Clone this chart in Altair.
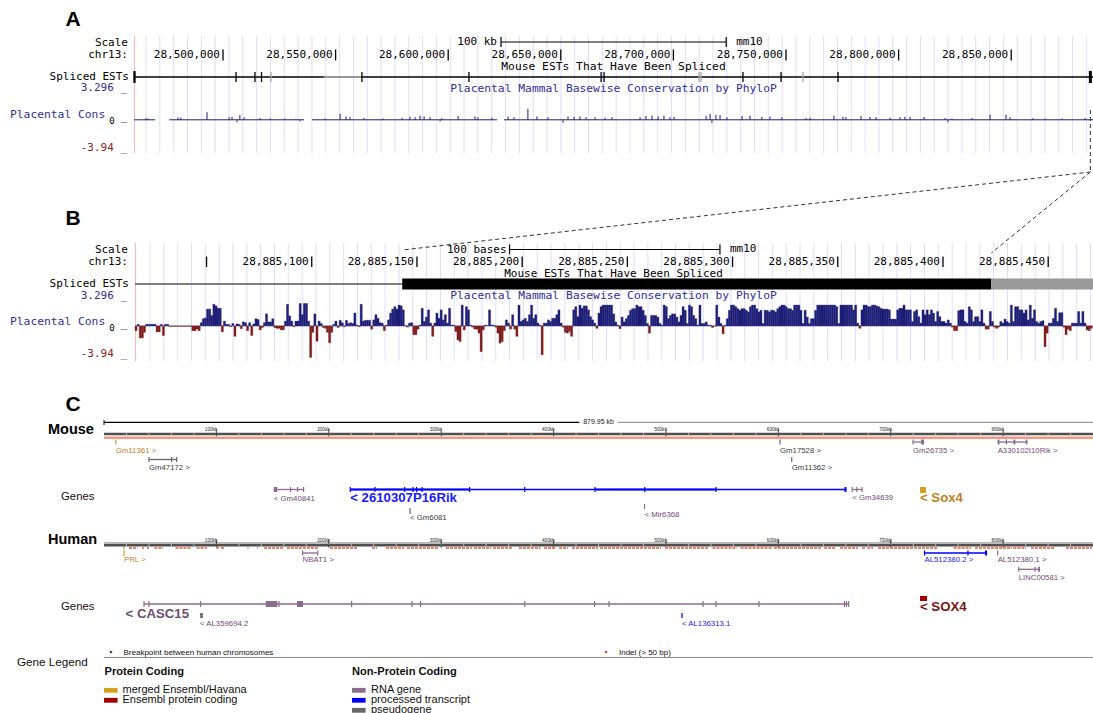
import altair as alt
import numpy as np
import pandas as pd

# ------------------------------------------------------------------
# Panel A: UCSC browser, chr13 (mm10) overview
# ------------------------------------------------------------------
A_DOMAIN = [28_460_480, 28_886_323]
A_RANGE = [134, 1093]
A_TICKS = [28_500_000, 28_550_000, 28_600_000, 28_650_000,
           28_700_000, 28_750_000, 28_800_000, 28_850_000]
A_SCALEBAR_START = 28_623_450
A_SCALEBAR_LEN = 100_000
A_EST_EXONS = [28_460_700, 28_505_800, 28_514_200, 28_517_100, 28_561_700,
               28_609_200, 28_667_900, 28_669_200, 28_730_900, 28_747_800,
               28_773_100]
A_EST_LAST_EXON = [28_885_143, 28_885_423]
A_EST_FAINT_EXONS = [28_521_300, 28_711_400, 28_712_300, 28_757_500]
A_EST_FAINT_SPAN = [28_544_800, 28_561_700]
A_CONS_RUNS_KB = [(28460.5, 28469.9), (28476.1, 28536.0),
                  (28539.5, 28621.7), (28624.8, 28886.3)]
A_CONS_POS_KB = [28465.8, 28466.7, 28480.0, 28481.3, 28492.9, 28502.7, 28504.0, 28506.2, 28507.5, 28509.3,
                 28516.4, 28520.9, 28527.5, 28532.4, 28534.2, 28545.3, 28552.0, 28554.6, 28556.4, 28562.6,
                 28571.0, 28579.5, 28583.0, 28585.3, 28587.5, 28589.3, 28591.9, 28596.4, 28597.2, 28604.4,
                 28611.9, 28613.2, 28619.4, 28626.6, 28629.2, 28635.4, 28639.4, 28644.3, 28651.0, 28653.2,
                 28655.9, 28658.5, 28661.2, 28665.2, 28669.6, 28672.7, 28685.2, 28687.8, 28690.5, 28693.2,
                 28695.8, 28698.5, 28700.3, 28714.5, 28716.3, 28717.1, 28718.9, 28720.7, 28723.8, 28730.5,
                 28734.0, 28739.3, 28742.9, 28748.2, 28758.9, 28760.7, 28771.3, 28775.3, 28776.6, 28783.3,
                 28787.3, 28790.0, 28796.2, 28800.6, 28802.8, 28805.1, 28811.3, 28820.6, 28821.9, 28823.7,
                 28832.6, 28840.6, 28847.7, 28849.5, 28859.7, 28865.0, 28872.6, 28882.8]
A_CONS_VAL = [0.2, 0.15, 0.3, 0.25, 0.9, 0.3, 0.35, -0.3, 0.55, 0.3,
              0.2, 0.15, 0.15, 0.1, -0.2, 0.15, 0.7, 0.4, 0.3, 0.2,
              0.15, 0.25, 0.35, 0.3, 0.5, 0.4, 0.3, -0.2, 0.2, 0.45,
              0.4, 0.3, 0.25, 0.4, 0.3, 1.3, 0.4, 0.3, -0.35, 0.4,
              0.35, 0.4, 0.3, 0.3, 0.25, 0.3, 0.3, 0.45, 0.5, 0.4,
              0.5, 0.3, 0.35, 0.5, 0.7, -0.4, 0.6, 0.55, 0.3, 0.45,
              0.5, 0.35, 0.4, 0.3, 0.2, 0.25, 0.5, 0.35, 0.3, 0.45,
              0.35, 0.3, 0.25, 0.3, 0.35, 0.35, 0.35, 0.2, -0.3, 0.15,
              0.2, 0.6, 0.6, 0.3, 0.2, 0.15, 0.15, 0.2]

# ------------------------------------------------------------------
# Panel B: base-level zoom on the EST exon
# ------------------------------------------------------------------
B_DOMAIN = [28_885_016, 28_885_471.3]
B_RANGE = [135, 1093]
B_TICK_LABELS = [28_885_100, 28_885_150, 28_885_200, 28_885_250,
                 28_885_300, 28_885_350, 28_885_400, 28_885_450]
B_TICK_BARE = [28_885_050]
B_SCALEBAR_START = 28_885_194
B_SCALEBAR_LEN = 100
B_EST_INTRON = [28_885_016, 28_885_143]
B_EST_EXON = [28_885_143, 28_885_423]
B_EST_FAINT = [28_885_423, 28_885_471.3]
B_FIRST_BASE = 28_885_016
# phyloP per base, left to right
B_CONS_1 = [-0.6, 0.2, -1.5, -1.5, -0.8, 0.2, 0.2, 0.2, 0.2, 0.2,
            -0.75, -0.75, 0.2, -1.2, 0.2, 0.2, -0.05, -0.05, -0.05, -0.05,
            -0.05, -0.05, -0.05, -0.05, -0.05, -0.05, -0.05, -0.6, -0.6, -0.4,
            -0.6, 0.4, 0.9, 1.0, 2.1, 2.1, 1.3, 2.7, 2.5, 2.2,
            2.2, -0.75, 0.6, 0.2, 0.2, -0.1, 0.3, -1.3, 0.25, 0.2,
            -0.35, 0.5, 0.4, -0.6, 0.4, -1.2, 0.25, 0.9, 0.8, -0.5,
            -0.2, 0.4, 1.5, 0.5, 0.5, 0.9, -0.2, -0.3, -0.3, -0.5,
            -0.5, 0.6, 2.7, 1.25, 0.6, -0.1, 0.6, 0.6, 2.8, 1.4,
            2.8, 2.8, 0.6, -3.94, -0.8, 1.5, -1.9, 0.6, 0.3, -0.2,
            -0.3, -0.8, -2.1, -0.8, 0.2, 0.6, -0.2, 0.7, 0.4, -0.1,
            0.7, 0.3, 0.4, 0.3, 1.6, 0.1, -0.1, 2.7, 0.6, 0.7,
            0.7, 0.7]
B_CONS_2 = [-0.4, 0.75, 1.4, 0.95, 0.4, 0.35, -0.6, 0.1, 0.75, 1.6,
            2.1, 2.4, 2.1, 2.6, 2.5, 2.0, 0.05, -0.15, 0.35, 0.4,
            -1.1, -1.1, -0.4, 0.1, 2.2, 0.55, 1.1, 2.0, 0.35, -1.3,
            0.35, 1.6, 0.95, 2.0, 0.75, 1.4, 0.35, 2.2, 0.1, 0.1,
            -0.7, -1.75, -1.95, 2.6, -0.5, 2.4, 2.0, 0.1, -0.15, -0.4,
            -0.4, -0.9, -3.2, -0.5, 0.1, 0.05, 2.0, 0.1, 0.1, -0.15,
            -0.9, -2.15, -1.95, -0.6, 0.75, 0.35, -0.4, 1.4, -0.4, -1.3,
            2.6, 0.55, 0.75, 0.95, 0.55, 1.4, 2.6, 0.95, 1.4, 0.35,
            0.1, -3.6, 0.35, 0.35, 0.75, 0.55, 0.95, 0.95, 1.4, 2.0,
            0.35, -0.15, -0.8, -0.9, -0.7, -1.3, 2.0, 2.4, 1.15, 2.6,
            2.2, 2.5, 2.5, 2.0, 1.15, 0.75, 0.35, -0.3, 1.6, 2.4,
            2.6, 2.6, 2.6, 2.6]
B_CONS_3 = [2.6, 1.5, 0.5, 0.1, -0.35, 1.1, 0.5, 0.9, 1.3, 1.95,
            2.15, 2.15, 2.6, 2.4, 2.4, 1.95, 1.3, 0.3, -0.9, 1.3,
            1.3, 1.3, 1.1, 0.3, 0.1, 2.6, 2.4, 0.9, 1.3, 1.5,
            1.5, 1.1, 0.5, 1.3, 2.4, 1.95, 0.3, 2.6, 2.4, 1.3,
            0.9, 0.1, 2.6, 0.3, 0.3, 0.5, 0.1, 0.1, -0.2, -0.05,
            2.6, 1.1, 0.3, -1.0, 0.1, 0.9, 1.95, 2.6, 2.6, 2.4,
            2.15, 1.95, 2.15, 2.15, 1.95, 1.75, 2.4, 2.6, 2.6, 2.15,
            1.75, 1.95, 0.3, 1.95, 1.95, 1.75, 1.95, 1.95, 1.75, 2.15,
            2.4, 2.6, 2.6, 2.4, 2.15, 2.15, 1.95, 2.6, 2.6, 2.6,
            1.95, 0.3, 1.95, 1.1, 0.3, 0.9, 0.9, 1.95, 2.6, 2.6,
            2.6, 2.6, 2.6, 2.6, 2.6, 2.6, 2.6, 2.4, 0.3, 2.6,
            2.6, 2.6, 2.6, 2.6]
B_CONS_4 = [2.6, 2.0, 2.6, 0.35, -0.3, 2.0, 2.6, 2.6, 2.4, 2.4,
            2.6, 2.6, 2.5, 2.4, 2.2, 2.1, 2.1, 2.1, 2.0, 0.85,
            0.85, 0.85, 2.0, 2.2, 2.2, 2.6, 2.0, 2.0, 2.0, 0.55,
            1.8, 2.0, 1.15, 0.35, 2.0, 1.4, 2.0, 1.4, 2.0, 1.6,
            0.55, 1.8, 1.15, 0.55, 0.55, 0.35, 0.75, 0.35, -0.15, -0.6,
            -0.6, 1.9, 2.0, 2.0, 0.55, 0.35, 2.4, 2.0, 0.55, 1.15,
            1.15, 0.55, 2.0, 0.35, -0.4, -0.4, 1.8, 0.55, -0.15, -0.3,
            -0.15, 0.55, 0.35, 0.85, 0.55, 0.35, 2.6, 0.55, 2.4, 2.4,
            2.0, 2.0, 1.6, 2.0, 0.75, 2.6, 0.95, 2.0, 0.55, 0.35,
            0.55, 0.65, -2.6, -0.9, 0.35, 0.35, 0.95, 2.2, 0.55, 1.65,
            1.65, -0.15, -1.1, -0.4, -0.6, 0.35, 0.35, 0.35, 1.8, 0.35,
            1.8, 0.35, -0.5, -0.6, -0.3]
CONS_DOMAIN = [-3.94, 3.296]

# ------------------------------------------------------------------
# Panel C: Ensembl comparison, mouse vs human (kb from window start)
# ------------------------------------------------------------------
C_DOMAIN = [0, 879.95]
C_RANGE = [104, 1093]
C_SPAN_LABEL = "879.95 kb"
C_RULER_MAJOR = [100, 200, 300, 400, 500, 600, 700, 800]

# (name, label, biotype, (start, end) or None, exon ticks, exon boxes)
MOUSE_GENES = [
    ("Gm11361", "Gm11361 >", "merged", None, [10.5], []),
    ("Gm47172", "Gm47172 >", "pseudo", (40.0, 64.6), [40.0, 60.1, 64.6], []),
    ("Gm17528", "Gm17528 >", "pseudo", None, [601.5], []),
    ("Gm11362", "Gm11362 >", "pseudo", None, [611.9], []),
    ("Gm26735", "Gm26735 >", "rna", (719.8, 729.6), [719.8], [(726.9, 729.6)]),
    ("A330102I10Rik", "A330102I10Rik >", "rna", (795.1, 821.6), [802.9],
     [(795.1, 796.7), (809.2, 810.8), (820.1, 821.6)]),
    ("Gm40841", "< Gm40841", "rna", (151.1, 177.6), [166.0, 172.2, 177.6], [(151.1, 154.2)]),
    ("2610307P16Rik", "< 2610307P16Rik", "processed", (219.1, 660.2),
     [219.1, 241.1, 267.5, 274.9, 278.1, 283.0, 325.3, 374.3, 436.9, 481.1, 544.5, 659.3, 660.2], []),
    ("Gm6081", "< Gm6081", "pseudo", None, [272.3], []),
    ("Mir6368", "< Mir6368", "rna", None, [480.9], []),
    ("Gm34639", "< Gm34639", "rna", (665.7, 674.5), [665.7, 669.8, 674.5], []),
    ("Sox4", "< Sox4", "merged", None, [], [(726.0, 731.4)]),
]
MOUSE_WIDE_BLOCKS = [(219.1, 325.3), (436.9, 544.5)]

HUMAN_GENES = [
    ("PRL", "PRL >", "merged", None, [17.8], []),
    ("NBAT1", "NBAT1 >", "rna", (176.7, 190.1), [176.7, 190.1], []),
    ("AL512380.2", "AL512380.2 >", "processed", (730.0, 785.7), [730.0, 768.7], [(783.9, 785.7)]),
    ("AL512380.1", "AL512380.1 >", "rna", None, [795.1], []),
    ("LINC00581", "LINC00581 >", "rna", (813.8, 832.8), [813.8, 828.4], [(831.0, 832.8)]),
    ("CASC15", "< CASC15", "rna", (35.6, 662.6),
     [35.6, 40.0, 85.9, 155.7, 220.3, 274.0, 281.7, 374.4, 436.5, 449.3, 533.0, 544.5,
      582.8, 658.9, 660.6, 662.6], [(143.9, 154.2), (171.7, 177.1)]),
    ("AL359694.2", "< AL359694.2", "rna", None, [], [(85.4, 88.1)]),
    ("AL136313.1", "< AL136313.1", "processed", None, [514.3], []),
    ("SOX4", "< SOX4", "protein", None, [], [(726.0, 732.3)]),
]
HUMAN_ALIGN_BLOCKS = [
    (16.9, 18.3), (22.2, 29.9), (33.8, 35.6), (38.3, 40.0), (44.8, 52.5), (63.6, 77.4),
    (82.4, 91.6), (100.2, 102.3), (104.1, 107.3), (127.7, 128.6), (136.1, 137.0),
    (142.4, 160.2), (162.8, 190.4), (201.1, 226.0), (238.5, 242.9), (250.9, 266.9),
    (269.6, 298.1), (304.3, 327.4), (329.2, 344.3), (346.1, 363.5), (369.2, 388.4),
    (391.5, 402.2), (404.9, 412.9), (416.4, 439.5), (441.3, 495.6), (499.2, 538.3),
    (541.4, 563.2), (566.4, 594.4), (596.1, 638.5), (640.7, 651.0), (654.9, 670.9),
    (674.4, 677.0), (679.1, 684.4), (688.7, 742.1), (755.9, 771.4), (775.0, 807.9),
    (809.1, 820.3), (824.8, 845.3), (855.9, 879.1),
]

LEGEND_PROTEIN = [("merged Ensembl/Havana", "merged"), ("Ensembl protein coding", "protein")]
LEGEND_NONPROTEIN = [("RNA gene", "rna"), ("processed transcript", "processed"), ("pseudogene", "pseudo")]

# ------------------------------------------------------------------
# styling
# ------------------------------------------------------------------
MONO = "DejaVu Sans Mono"
SANS = "Liberation Sans"
NAVY = "#1e1e76"
DRED = "#7e1d1d"
TXT_BLUE = "#30309a"
TXT_RED = "#8c1e1e"
GRID = "#dedefb"
PINK = "#f6bcbc"
FILL = {"merged": "#d4a020", "protein": "#a10000", "rna": "#8b6b8e",
        "processed": "#0000ff", "pseudo": "#666666"}
INK = {"merged": "#c0821f", "protein": "#7a1414", "rna": "#6d4d71",
       "processed": "#1a1aff", "pseudo": "#3c3c3c"}

W, H = 1093, 713
PX = alt.Scale(domain=[0, W], range=[0, W], nice=False, zero=False)
PY = alt.Scale(domain=[0, H], range=[0, H], nice=False, zero=False)
SA = alt.Scale(domain=A_DOMAIN, range=A_RANGE, nice=False, zero=False)
SB = alt.Scale(domain=B_DOMAIN, range=B_RANGE, nice=False, zero=False)
SC = alt.Scale(domain=C_DOMAIN, range=C_RANGE, nice=False, zero=False)
SYA = alt.Scale(domain=CONS_DOMAIN, range=[153, 92], nice=False, zero=False)
SYB = alt.Scale(domain=CONS_DOMAIN, range=[357.5, 299.5], nice=False, zero=False)


def to_px(v, dom, rng):
    return rng[0] + (v - dom[0]) / (dom[1] - dom[0]) * (rng[1] - rng[0])


def one():
    return pd.DataFrame({"_": [0]})


def X(f, s):
    return alt.X(f"{f}:Q", scale=s, axis=None)


def Y(f, s):
    return alt.Y(f"{f}:Q", scale=s, axis=None)


def page_text(rows, **mark):
    df = pd.DataFrame(rows, columns=["t", "x", "y"])
    mark.setdefault("baseline", "middle")
    return alt.Chart(df).mark_text(**mark).encode(x=X("x", PX), y=Y("y", PY), text="t:N")


def page_rules(rows, **mark):
    df = pd.DataFrame(rows, columns=["x", "y", "x2", "y2"])
    return alt.Chart(df).mark_rule(**mark).encode(
        x=X("x", PX), y=Y("y", PY), x2="x2:Q", y2="y2:Q")


def page_rects(rows, **mark):
    df = pd.DataFrame(rows, columns=["x", "y", "x2", "y2", "c"])
    return alt.Chart(df).mark_rect(**mark).encode(
        x=X("x", PX), y=Y("y", PY), x2="x2:Q", y2="y2:Q",
        color=alt.Color("c:N", scale=None))


layers = []

# ---------------- panel A ----------------
grid_a = pd.DataFrame({"p": np.arange(28_465_800, A_DOMAIN[1], 6141.0)})
layers.append(alt.Chart(grid_a).mark_rule(color=GRID, strokeWidth=1).encode(
    x=X("p", SA), y=alt.value(36), y2=alt.value(153)))
layers.append(page_rules([(134.5, 36, 134.5, 153)], color=PINK, strokeWidth=1.2))

ta = pd.DataFrame({"p": A_TICKS, "lab": [f"{v:,}" for v in A_TICKS]})
layers.append(alt.Chart(ta).mark_rule(color="black", strokeWidth=1.3).encode(
    x=X("p", SA), y=alt.value(49.5), y2=alt.value(60.5)))
layers.append(alt.Chart(ta).mark_text(font=MONO, fontSize=11, align="right", baseline="middle",
                                       dx=-3, color="black").encode(
    x=X("p", SA), y=alt.value(55), text="lab:N"))

sba = pd.DataFrame({"s": [A_SCALEBAR_START], "e": [A_SCALEBAR_START + A_SCALEBAR_LEN]})
layers.append(alt.Chart(sba).mark_rule(color="black", strokeWidth=1.2).encode(
    x=X("s", SA), x2="e:Q", y=alt.value(42)))
sba_ends = pd.DataFrame({"p": [A_SCALEBAR_START, A_SCALEBAR_START + A_SCALEBAR_LEN]})
layers.append(alt.Chart(sba_ends).mark_rule(color="black", strokeWidth=1.2).encode(
    x=X("p", SA), y=alt.value(37), y2=alt.value(47)))
layers.append(alt.Chart(sba).mark_text(font=MONO, fontSize=11, align="right", baseline="middle",
                                        dx=-4, color="black").encode(
    x=X("s", SA), y=alt.value(42), text=alt.value("100 kb")))
layers.append(alt.Chart(sba).mark_text(font=MONO, fontSize=11, align="left", baseline="middle",
                                        dx=10, color="black").encode(
    x=X("e", SA), y=alt.value(42), text=alt.value("mm10")))

# spliced EST track
est_a = pd.DataFrame({"s": [A_DOMAIN[0]], "e": [A_DOMAIN[1]]})
layers.append(alt.Chart(est_a).mark_rule(color="black", strokeWidth=1.3).encode(
    x=X("s", SA), x2="e:Q", y=alt.value(77)))
faint_a = pd.DataFrame({"s": [A_EST_FAINT_SPAN[0]], "e": [A_EST_FAINT_SPAN[1]]})
layers.append(alt.Chart(faint_a).mark_rule(color="#b4b4b4", strokeWidth=1.5).encode(
    x=X("s", SA), x2="e:Q", y=alt.value(77)))
ex_a = pd.DataFrame({"p": A_EST_EXONS})
layers.append(alt.Chart(ex_a).mark_rule(color="black", strokeWidth=1.3).encode(
    x=X("p", SA), y=alt.value(72), y2=alt.value(82)))
layers.append(alt.Chart(ex_a.iloc[[0]]).mark_rule(color="black", strokeWidth=2.2).encode(
    x=X("p", SA), y=alt.value(71), y2=alt.value(83)))
fx_a = pd.DataFrame({"p": A_EST_FAINT_EXONS})
layers.append(alt.Chart(fx_a).mark_rule(color="#a8a8a8", strokeWidth=1.3).encode(
    x=X("p", SA), y=alt.value(72), y2=alt.value(82)))
last_a = pd.DataFrame({"s": [A_EST_LAST_EXON[0]], "e": [A_EST_LAST_EXON[1]]})
layers.append(alt.Chart(last_a).mark_rule(color="black", strokeWidth=3).encode(
    x=X("s", SA), y=alt.value(71), y2=alt.value(83)))

# conservation track (window-averaged)
runs = pd.DataFrame({"s": [r[0] * 1000 for r in A_CONS_RUNS_KB],
                     "e": [r[1] * 1000 for r in A_CONS_RUNS_KB], "z": 0.0})
layers.append(alt.Chart(runs).mark_rule(color=NAVY, strokeWidth=1).encode(
    x=X("s", SA), x2="e:Q", y=Y("z", SYA)))
spk = pd.DataFrame({"p": [v * 1000 for v in A_CONS_POS_KB], "v": A_CONS_VAL, "z": 0.0})
spk["c"] = np.where(spk.v >= 0, NAVY, DRED)
layers.append(alt.Chart(spk).mark_rule(strokeWidth=1).encode(
    x=X("p", SA), y=Y("z", SYA), y2="v:Q", color=alt.Color("c:N", scale=None)))

layers.append(page_text([("A", 73, 20)], font=SANS, fontSize=21, fontWeight="bold",
                        align="center", color="black"))
layers.append(page_text([("Scale", 128, 43), ("chr13:", 128, 55), ("Spliced ESTs", 129, 77)],
                        font=MONO, fontSize=11, align="right", color="black"))
layers.append(page_text([("Mouse ESTs That Have Been Spliced", 613.5, 66.5)],
                        font=MONO, fontSize=11.3, align="center", color="black"))
layers.append(page_text([("Placental Mammal Basewise Conservation by PhyloP", 613.5, 89)],
                        font=MONO, fontSize=11.3, align="center", color=TXT_BLUE))
layers.append(page_text([("3.296 _", 127, 88)], font=MONO, fontSize=11, align="right", color=TXT_BLUE))
layers.append(page_text([("Placental Cons", 10, 115)], font=MONO, fontSize=11.3, align="left",
                        color=TXT_BLUE))
layers.append(page_text([("0", 112, 121)], font=MONO, fontSize=9, align="center", color="black"))
layers.append(page_text([("_", 124, 117)], font=MONO, fontSize=11, align="center", color="black"))
layers.append(page_text([("-3.94 _", 127, 148)], font=MONO, fontSize=11, align="right", color=TXT_RED))

# ---------------- panel B ----------------
grid_b = pd.DataFrame({"p": np.arange(28_885_023.13, B_DOMAIN[1], 6.573)})
layers.append(alt.Chart(grid_b).mark_rule(color=GRID, strokeWidth=1).encode(
    x=X("p", SB), y=alt.value(243), y2=alt.value(361)))
layers.append(page_rules([(135.5, 243, 135.5, 361)], color=PINK, strokeWidth=1.2))

tb = pd.DataFrame({"p": B_TICK_LABELS, "lab": [f"{v:,}" for v in B_TICK_LABELS]})
tb_all = pd.DataFrame({"p": B_TICK_BARE + B_TICK_LABELS})
layers.append(alt.Chart(tb_all).mark_rule(color="black", strokeWidth=1.3).encode(
    x=X("p", SB), y=alt.value(256.5), y2=alt.value(267)))
layers.append(alt.Chart(tb).mark_text(font=MONO, fontSize=11, align="right", baseline="middle",
                                       dx=-3, color="black").encode(
    x=X("p", SB), y=alt.value(261.8), text="lab:N"))

sbb = pd.DataFrame({"s": [B_SCALEBAR_START], "e": [B_SCALEBAR_START + B_SCALEBAR_LEN]})
layers.append(alt.Chart(sbb).mark_rule(color="black", strokeWidth=1.2).encode(
    x=X("s", SB), x2="e:Q", y=alt.value(249.5)))
sbb_ends = pd.DataFrame({"p": [B_SCALEBAR_START, B_SCALEBAR_START + B_SCALEBAR_LEN]})
layers.append(alt.Chart(sbb_ends).mark_rule(color="black", strokeWidth=1.2).encode(
    x=X("p", SB), y=alt.value(244.5), y2=alt.value(254.5)))
layers.append(alt.Chart(sbb).mark_text(font=MONO, fontSize=11, align="right", baseline="middle",
                                        dx=-3, color="black").encode(
    x=X("s", SB), y=alt.value(249.5), text=alt.value("100 bases")))
layers.append(alt.Chart(sbb).mark_text(font=MONO, fontSize=11, align="left", baseline="middle",
                                        dx=10, color="black").encode(
    x=X("e", SB), y=alt.value(249), text=alt.value("mm10")))

intr = pd.DataFrame({"s": [B_EST_INTRON[0]], "e": [B_EST_INTRON[1]]})
layers.append(alt.Chart(intr).mark_rule(color="#555555", strokeWidth=1.6).encode(
    x=X("s", SB), x2="e:Q", y=alt.value(284)))
exb = pd.DataFrame({"s": [B_EST_EXON[0], B_EST_FAINT[0]], "e": [B_EST_EXON[1], B_EST_FAINT[1]],
                    "c": ["#000000", "#9a9a9a"]})
layers.append(alt.Chart(exb).mark_rect().encode(
    x=X("s", SB), x2="e:Q", y=alt.value(278.5), y2=alt.value(289.5),
    color=alt.Color("c:N", scale=None)))

cons_b = B_CONS_1 + B_CONS_2 + B_CONS_3 + B_CONS_4
bars = pd.DataFrame({"p": B_FIRST_BASE + np.arange(len(cons_b)), "v": cons_b})
bars["e"] = bars.p + 1
bars["z"] = 0.0
bars["c"] = np.where(bars.v >= 0, NAVY, DRED)
zero_b = pd.DataFrame({"s": [B_DOMAIN[0]], "e": [B_DOMAIN[1]], "z": [0.0]})
layers.append(alt.Chart(zero_b).mark_rule(color="#b9b9dc", strokeWidth=1).encode(
    x=X("s", SB), x2="e:Q", y=Y("z", SYB)))
layers.append(alt.Chart(bars).mark_rect(strokeWidth=0.35).encode(
    x=X("p", SB), x2="e:Q", y=Y("z", SYB), y2="v:Q",
    color=alt.Color("c:N", scale=None), stroke=alt.Stroke("c:N", scale=None)))

layers.append(page_text([("B", 73, 219)], font=SANS, fontSize=21, fontWeight="bold",
                        align="center", color="black"))
layers.append(page_text([("Scale", 128, 250), ("chr13:", 128, 262), ("Spliced ESTs", 129, 284)],
                        font=MONO, fontSize=11, align="right", color="black"))
layers.append(page_text([("Mouse ESTs That Have Been Spliced", 613.5, 273.5)],
                        font=MONO, fontSize=11, align="center", color="black"))
layers.append(page_text([("Placental Mammal Basewise Conservation by PhyloP", 613.5, 295.5)],
                        font=MONO, fontSize=11.3, align="center", color=TXT_BLUE))
layers.append(page_text([("3.296 _", 127, 295.5)], font=MONO, fontSize=11, align="right", color=TXT_BLUE))
layers.append(page_text([("Placental Cons", 10, 322)], font=MONO, fontSize=11.3, align="left",
                        color=TXT_BLUE))
layers.append(page_text([("0", 112, 327.5)], font=MONO, fontSize=9, align="center", color="black"))
layers.append(page_text([("_", 124, 323.5)], font=MONO, fontSize=11, align="center", color="black"))
layers.append(page_text([("-3.94 _", 127, 354)], font=MONO, fontSize=11, align="right", color=TXT_RED))

# zoom connectors from the A exon to the B window
xa_ex = to_px(A_EST_LAST_EXON[0], A_DOMAIN, A_RANGE)
xb_s = to_px(B_EST_EXON[0], B_DOMAIN, B_RANGE)
xb_e = to_px(B_EST_EXON[1], B_DOMAIN, B_RANGE)
layers.append(page_rules([(xa_ex, 110, xa_ex, 172), (xa_ex, 172, xb_s, 250), (xa_ex, 172, xb_e, 253)],
                         color="#333333", strokeWidth=1, strokeDash=[4, 3]))

# ---------------- panel C ----------------
layers.append(page_text([("C", 73, 405)], font=SANS, fontSize=21, fontWeight="bold",
                        align="center", color="black"))


def ruler(y_lab, y_bar, with_top_line):
    out = []
    maj = pd.DataFrame({"p": C_RULER_MAJOR, "lab": [f"{v}kb" for v in C_RULER_MAJOR]})
    minor = pd.DataFrame({"p": np.arange(20, 880, 20)})
    span = pd.DataFrame({"s": [C_DOMAIN[0]], "e": [C_DOMAIN[1]]})
    if with_top_line:
        out.append(alt.Chart(span).mark_rule(color="#9a9a9a", strokeWidth=1).encode(
            x=X("s", SC), x2="e:Q", y=alt.value(y_bar - 2)))
    out.append(alt.Chart(span).mark_rect(color="#505050").encode(
        x=X("s", SC), x2="e:Q", y=alt.value(y_bar - 1), y2=alt.value(y_bar + 1.6)))
    out.append(alt.Chart(minor).mark_rule(color="#bbbbbb", strokeWidth=1).encode(
        x=X("p", SC), y=alt.value(y_bar - 1), y2=alt.value(y_bar + 1.6)))
    out.append(alt.Chart(maj).mark_rule(color="#222222", strokeWidth=0.8).encode(
        x=X("p", SC), y=alt.value(y_lab - 1), y2=alt.value(y_bar + 3)))
    out.append(alt.Chart(maj).mark_text(font=SANS, fontSize=4.6, align="right", baseline="middle",
                                         dx=1, color="#222222").encode(
        x=X("p", SC), y=alt.value(y_lab), text="lab:N"))
    return out


# mouse length line
half = 879.95 / 2
len_line = pd.DataFrame({"s": [C_DOMAIN[0], half + 17], "e": [half - 17, C_DOMAIN[1]],
                         "c": ["#000000", "#9a9a9a"]})
layers.append(alt.Chart(len_line).mark_rule(strokeWidth=1.2).encode(
    x=X("s", SC), x2="e:Q", y=alt.value(422.3), color=alt.Color("c:N", scale=None)))
layers.append(alt.Chart(pd.DataFrame({"p": [C_DOMAIN[0]]})).mark_rule(color="black").encode(
    x=X("p", SC), y=alt.value(420), y2=alt.value(425)))
layers.append(alt.Chart(pd.DataFrame({"p": [half]})).mark_text(
    font=SANS, fontSize=7, align="center", baseline="middle", color="#222222").encode(
    x=X("p", SC), y=alt.value(422), text=alt.value(C_SPAN_LABEL)))

layers += ruler(430.3, 433.7, False)
layers.append(alt.Chart(pd.DataFrame({"s": [C_DOMAIN[0]], "e": [C_DOMAIN[1]]})).mark_rule(
    color="#ec9a84", strokeWidth=2.6).encode(x=X("s", SC), x2="e:Q", y=alt.value(437.8)))

layers += ruler(540.8, 544.8, True)
al = pd.DataFrame(HUMAN_ALIGN_BLOCKS, columns=["s", "e"])
layers.append(alt.Chart(al).mark_rule(color="#ee8266", strokeWidth=2, strokeDash=[3, 1]).encode(
    x=X("s", SC), x2="e:Q", y=alt.value(547.9)))

# glyph rows: (glyph centre y, half height, label y, big label, label kb override)
MOUSE_ROWS = {
    "Gm11361": (442, 2.5, 451, False, None), "Gm47172": (459.5, 2.5, 468, False, None),
    "Gm17528": (442, 2.5, 451, False, None), "Gm11362": (459.5, 2.5, 468, False, None),
    "Gm26735": (442, 2.5, 451, False, None), "A330102I10Rik": (442, 2.5, 451, False, None),
    "Gm40841": (489.5, 2.5, 498.5, False, None), "2610307P16Rik": (489.5, 2.6, 498, True, None),
    "Gm6081": (511, 3, 517.5, False, None), "Mir6368": (506.5, 2.5, 514.5, False, None),
    "Gm34639": (489.5, 2.5, 498, False, None), "Sox4": (490, 3, 498, True, None),
}
HUMAN_ROWS = {
    "PRL": (553, 3, 560, False, None), "NBAT1": (553, 2.5, 560, False, None),
    "AL512380.2": (553, 2.5, 560, False, None), "AL512380.1": (553, 2.5, 560, False, None),
    "LINC00581": (569.3, 2.5, 577.7, False, None), "CASC15": (604, 3, 613.5, True, 19.2),
    "AL359694.2": (615.5, 2.5, 624, False, None), "AL136313.1": (615.5, 2.5, 624, False, None),
    "SOX4": (598.5, 2.5, 607, True, None),
}


def gene_layers(genes, rows):
    lines, ticks, boxes, small, big = [], [], [], [], []
    for name, label, bt, span, tks, bxs in genes:
        gy, hh, ly, is_big, lab_at = rows[name]
        col = FILL[bt]
        if span:
            lines.append((span[0], span[1], gy, col))
        for t in tks:
            ticks.append((t, gy - hh, gy + hh, col))
        for b in bxs:
            boxes.append((b[0], b[1], gy - hh, gy + hh, col))
        if span:
            first = span[0]
        elif tks:
            first = min(tks)
        else:
            first = min(b[0] for b in bxs)
        x0 = lab_at if lab_at is not None else first
        (big if is_big else small).append((x0, ly, label, INK[bt]))
    out = []
    ld = pd.DataFrame(lines, columns=["s", "e", "y", "c"])
    out.append(alt.Chart(ld).mark_rule(strokeWidth=1.3).encode(
        x=X("s", SC), x2="e:Q", y=Y("y", PY), color=alt.Color("c:N", scale=None)))
    td = pd.DataFrame(ticks, columns=["p", "y", "y2", "c"])
    out.append(alt.Chart(td).mark_rule(strokeWidth=1.2).encode(
        x=X("p", SC), y=Y("y", PY), y2="y2:Q", color=alt.Color("c:N", scale=None)))
    if boxes:
        bd = pd.DataFrame(boxes, columns=["s", "e", "y", "y2", "c"])
        out.append(alt.Chart(bd).mark_rect().encode(
            x=X("s", SC), x2="e:Q", y=Y("y", PY), y2="y2:Q", color=alt.Color("c:N", scale=None)))
    sd = pd.DataFrame(small, columns=["p", "y", "t", "c"])
    out.append(alt.Chart(sd).mark_text(font=SANS, fontSize=7.8, align="left", baseline="middle").encode(
        x=X("p", SC), y=Y("y", PY), text="t:N", color=alt.Color("c:N", scale=None)))
    bgd = pd.DataFrame(big, columns=["p", "y", "t", "c"])
    out.append(alt.Chart(bgd).mark_text(font=SANS, fontSize=13.2, fontWeight="bold", align="left",
                                         baseline="middle").encode(
        x=X("p", SC), y=Y("y", PY), text="t:N", color=alt.Color("c:N", scale=None)))
    return out


wide = pd.DataFrame(MOUSE_WIDE_BLOCKS, columns=["s", "e"])
layers.append(alt.Chart(wide).mark_rect(color="#8585ff").encode(
    x=X("s", SC), x2="e:Q", y=alt.value(488.1), y2=alt.value(491)))
layers += gene_layers(MOUSE_GENES, MOUSE_ROWS)
layers += gene_layers(HUMAN_GENES, HUMAN_ROWS)

layers.append(page_text([("Mouse", 48, 430), ("Human", 48, 539.5)], font=SANS, fontSize=14.5,
                        fontWeight="bold", align="left", color="black"))
layers.append(page_text([("Genes", 61, 496.5), ("Genes", 61, 606.5)], font=SANS, fontSize=11.4,
                        align="left", color="#111111"))

# legend
layers.append(alt.Chart(one()).mark_point(shape="triangle-down", filled=True, size=9, color="black",
                                          opacity=1).encode(x=alt.value(111), y=alt.value(652.5)))
layers.append(alt.Chart(one()).mark_point(shape="triangle-down", filled=True, size=9, color="#e00000",
                                          opacity=1).encode(x=alt.value(606), y=alt.value(652.5)))
layers.append(page_text([("Breakpoint between human chromosomes", 123.5, 653),
                         ("Indel (> 50 bp)", 619, 653)],
                        font=SANS, fontSize=8, align="left", color="#111111"))
layers.append(page_rules([(104, 657.5, 1093, 657.5)], color="#8a8a8a", strokeWidth=1))
layers.append(page_text([("Gene Legend", 17, 662)], font=SANS, fontSize=11.7, align="left",
                        color="#111111"))
layers.append(page_text([("Protein Coding", 104.5, 672), ("Non-Protein Coding", 352, 672)],
                        font=SANS, fontSize=11.1, fontWeight="bold", align="left", color="#111111"))
sw, lt = [], []
for i, (txt, bt) in enumerate(LEGEND_PROTEIN):
    y = 690.3 + 10 * i
    sw.append((104, y - 2.4, 117.6, y + 2.4, FILL[bt]))
    lt.append((txt, 122.5, y))
for i, (txt, bt) in enumerate(LEGEND_NONPROTEIN):
    y = 690.3 + 10 * i
    sw.append((352, y - 2.4, 365.6, y + 2.4, FILL[bt]))
    lt.append((txt, 371, y))
layers.append(page_rects(sw))
layers.append(page_text(lt, font=SANS, fontSize=11, align="left", color="#111111"))

chart = alt.layer(*layers).resolve_scale(
    x="independent", y="independent", color="independent", stroke="independent"
).properties(
    width=W, height=H, padding=0, autosize=alt.AutoSizeParams(type="none"), background="white"
).configure_view(stroke=None)

chart.save("out.html", embed_options={"renderer": "svg", "actions": False})
